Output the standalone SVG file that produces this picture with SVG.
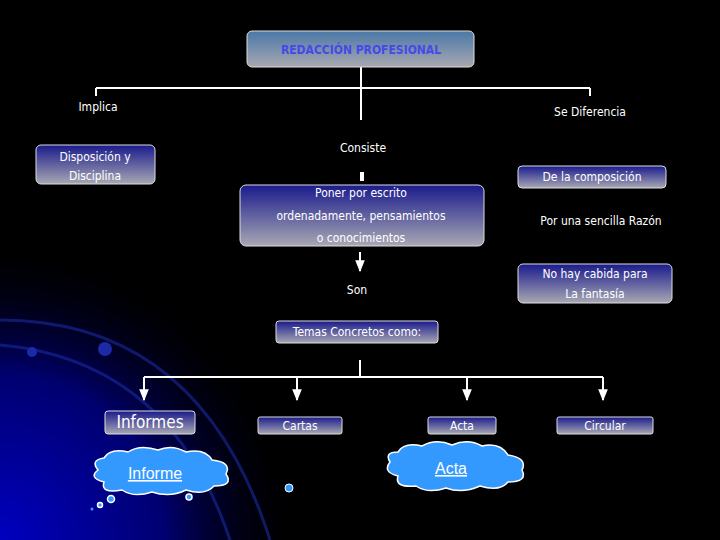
<svg xmlns="http://www.w3.org/2000/svg" width="720" height="540" viewBox="0 0 720 540">
<defs>
<linearGradient id="bx" x1="0" y1="0" x2="0" y2="1"><stop offset="0" stop-color="#1a1a8c"/><stop offset="1" stop-color="#a8a8b4"/></linearGradient>
<linearGradient id="tb" x1="0" y1="0" x2="0" y2="1"><stop offset="0" stop-color="#4a78a8"/><stop offset="1" stop-color="#a8a8b0"/></linearGradient>
<radialGradient id="glow" cx="0" cy="540" r="300" gradientUnits="userSpaceOnUse"><stop offset="0" stop-color="#0000c0"/><stop offset="0.55" stop-color="#000070"/><stop offset="1" stop-color="#000" stop-opacity="0"/></radialGradient>
<marker id="ar" viewBox="0 0 10 10" refX="9" refY="5" markerWidth="6" markerHeight="6" orient="auto"><path d="M0,1 L10,5 L0,9 z" fill="#fff"/></marker>
<style>
.b{fill:url(#bx);stroke:#ddd;stroke-width:1}
.t{font-family:"DejaVu Sans Condensed","Liberation Sans Narrow","Liberation Sans",sans-serif;font-size:12px;fill:#fff;text-anchor:middle}
.c{stroke:#fff;stroke-width:2;fill:none}
.cl{fill:#3399ff;stroke:#fff;stroke-width:1.5}
</style>
</defs>
<rect width="720" height="540" fill="#000"/>
<rect width="720" height="540" fill="url(#glow)"/>
<g fill="none" stroke="#1a2aa0" stroke-width="3" opacity="0.6">
<path d="M0,320 Q200,320 270,540"/><path d="M0,345 Q170,360 230,540"/>
</g>
<circle cx="105" cy="349" r="7" fill="#1a2aa8"/><circle cx="32" cy="352" r="5" fill="#1a2aa8"/>
<g id="connectors">
<path class="c" d="M361,67 V120 M96,88 H590 M96,88 V96 M590,88 V96"/>
<path d="M362,172 V181" stroke="#fff" stroke-width="4"/>
<path class="c" stroke-width="1.5" d="M360,252 V271" marker-end="url(#ar)"/>
<path class="c" stroke-width="1" d="M360,360 V377 M144,377 H603"/>
<path class="c" stroke-width="1" d="M144,377 V400" marker-end="url(#ar)"/>
<path class="c" stroke-width="1" d="M297,377 V400" marker-end="url(#ar)"/>
<path class="c" stroke-width="1" d="M467,377 V400" marker-end="url(#ar)"/>
<path class="c" stroke-width="1" d="M603,377 V400" marker-end="url(#ar)"/>
</g>
<g id="title"><rect x="247" y="31" width="227" height="36" rx="5" fill="url(#tb)" stroke="#ddd"/><text class="t" x="361" y="54" style="fill:#4848e8;font-weight:bold">REDACCIÓN PROFESIONAL</text></g>
<g id="implica"><text class="t" x="98" y="111">Implica</text></g>
<g id="sediferencia"><text class="t" x="590" y="116">Se Diferencia</text></g>
<g id="disposicion"><rect class="b" x="36" y="145" width="119" height="39" rx="5"/><text class="t" x="95" y="161">Disposición y</text><text class="t" x="95" y="180">Disciplina</text></g>
<g id="consiste"><text class="t" x="363" y="152">Consiste</text></g>
<g id="poner"><rect class="b" x="240" y="185" width="244" height="61" rx="6"/><text class="t" x="361" y="197">Poner por escrito</text><text class="t" x="361" y="220">ordenadamente, pensamientos</text><text class="t" x="361" y="242">o conocimientos</text></g>
<g id="son"><text class="t" x="357" y="294">Son</text></g>
<g id="composicion"><rect class="b" x="518" y="166" width="148" height="22" rx="4"/><text class="t" x="592" y="181">De la composición</text></g>
<g id="razon"><text class="t" x="601" y="225">Por una sencilla Razón</text></g>
<g id="fantasia"><rect class="b" x="518" y="264" width="154" height="39" rx="5"/><text class="t" x="595" y="278">No hay cabida para</text><text class="t" x="595" y="298">La fantasía</text></g>
<g id="temas"><rect class="b" x="276" y="321" width="162" height="22" rx="3"/><text class="t" x="357" y="336">Temas Concretos como:</text></g>
<g id="informes"><rect class="b" x="105" y="411" width="90" height="23" rx="3"/><text class="t" x="150" y="428" style="font-size:17px">Informes</text></g>
<g id="cartas"><rect class="b" x="258" y="417" width="84" height="17" rx="2"/><text class="t" x="300" y="430">Cartas</text></g>
<g id="acta"><rect class="b" x="428" y="417" width="68" height="17" rx="2"/><text class="t" x="462" y="430">Acta</text></g>
<g id="circular"><rect class="b" x="557" y="417" width="96" height="17" rx="2"/><text class="t" x="605" y="430">Circular</text></g>
<g id="cloud-informe">
<path class="cl" d="M98,470 Q90,460 104,458 Q110,448 128,452 Q140,444 158,450 Q172,444 186,452 Q205,448 212,460 Q232,462 226,474 Q234,486 214,486 Q205,496 186,490 Q170,498 152,492 Q134,498 122,490 Q100,494 104,482 Q88,478 98,470 z"/>
<circle class="cl" cx="111" cy="499" r="3.5"/><circle class="cl" cx="100" cy="505" r="2.5"/><circle cx="92" cy="509" r="1.5" fill="#3399ff"/><circle class="cl" cx="189" cy="497" r="3"/>
<text x="155" y="479" style="font-family:'Liberation Sans',sans-serif;font-size:16px;fill:#fff;text-anchor:middle;text-decoration:underline">Informe</text>
</g>
<circle cx="289" cy="488" r="4" fill="#3399ff" stroke="#fff"/>
<g id="cloud-acta">
<path class="cl" d="M390,462 Q384,452 398,452 Q404,442 422,446 Q436,438 452,445 Q468,438 482,446 Q500,442 508,455 Q528,458 522,470 Q528,482 508,482 Q500,492 480,486 Q462,494 446,488 Q428,494 416,486 Q394,488 398,476 Q382,472 390,462 z"/>
<text x="451" y="474" style="font-family:'Liberation Sans',sans-serif;font-size:16px;fill:#fff;text-anchor:middle;text-decoration:underline">Acta</text>
</g>
</svg>
